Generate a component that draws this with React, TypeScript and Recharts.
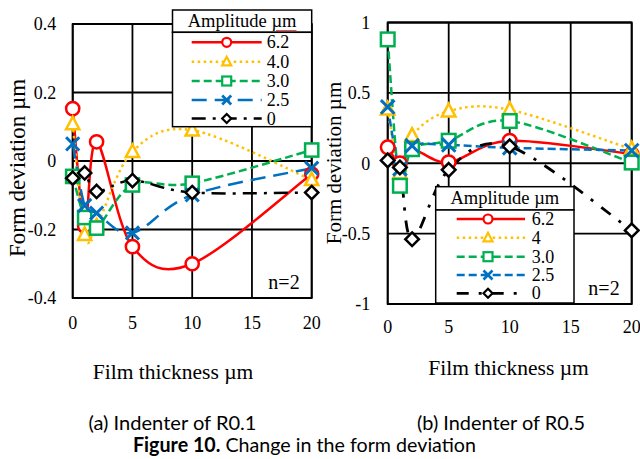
import React from 'react';
import { LineChart, Line, XAxis, YAxis, CartesianGrid, ReferenceArea } from 'recharts';

// ---------- data ----------
const FILM_THICKNESS = [0, 1, 2, 5, 10, 20];
const X_TICKS = [0, 5, 10, 15, 20];

// (a) Indenter of R0.1
const A_SERIES_NAMES = ['6.2', '4.0', '3.0', '2.5', '0'];
const A_AMP_6_2 = [0.153, -0.19, 0.056, -0.25, -0.3, -0.038];
const A_AMP_4_0 = [0.108, -0.215, -0.19, 0.027, 0.09, -0.055];
const A_AMP_3_0 = [-0.045, -0.165, -0.196, -0.07, -0.065, 0.032];
const A_AMP_2_5 = [0.05, -0.13, -0.152, -0.21, -0.099, -0.021];
const A_AMP_0 = [-0.05, -0.035, -0.089, -0.057, -0.092, -0.092];
const A_Y_TICKS = [-0.4, -0.2, 0, 0.2, 0.4];

// (b) Indenter of R0.5
const B_SERIES_NAMES = ['6.2', '4', '3.0', '2.5', '0'];
const B_AMP_6_2 = [0.113, 0.0, 0.1, 0.007, 0.16, 0.065];
const B_AMP_4 = [0.385, -0.07, 0.196, 0.37, 0.38, 0.1];
const B_AMP_3_0 = [0.88, -0.16, 0.1, 0.16, 0.3, 0.005];
const B_AMP_2_5 = [0.4, -0.04, 0.125, 0.13, 0.11, 0.09];
const B_AMP_0 = [0.02, -0.03, -0.54, -0.047, 0.12, -0.477];
const B_Y_TICKS = [-1, -0.5, 0, 0.5, 1];

const buildRows = (series: number[][]) =>
  FILM_THICKNESS.map((x, i) => {
    const row: any = { x };
    series.forEach((s, k) => (row['s' + k] = s[i]));
    return row;
  });

const A_ROWS = buildRows([A_AMP_6_2, A_AMP_4_0, A_AMP_3_0, A_AMP_2_5, A_AMP_0]);
const B_ROWS = buildRows([B_AMP_6_2, B_AMP_4, B_AMP_3_0, B_AMP_2_5, B_AMP_0]);

// ---------- styles ----------
const SERIF = '"Liberation Serif", "Times New Roman", serif';
const SANS = 'Lato, "Open Sans", sans-serif';

type Shape = 'circle' | 'triangle' | 'square' | 'x' | 'diamond';
type SStyle = { color: string; dash?: string; shape: Shape; width: number };

const A_STYLES: SStyle[] = [
  { color: '#FF0000', shape: 'circle', width: 2.5 },
  { color: '#FFC000', dash: '2.5 3.5', shape: 'triangle', width: 2.5 },
  { color: '#00B050', dash: '8 4', shape: 'square', width: 2.5 },
  { color: '#0070C0', dash: '15 8', shape: 'x', width: 2.5 },
  { color: '#000000', dash: '14 7 3 7', shape: 'diamond', width: 2.5 },
];
const B_STYLES: SStyle[] = [
  { color: '#FF0000', shape: 'circle', width: 2.5 },
  { color: '#FFC000', dash: '2.5 3.5', shape: 'triangle', width: 2.5 },
  { color: '#00B050', dash: '8 4', shape: 'square', width: 2.5 },
  { color: '#0070C0', dash: '8 4', shape: 'x', width: 2.5 },
  { color: '#000000', dash: '12 10 3 10', shape: 'diamond', width: 2.8 },
];

// Excel-like smoothed line (Catmull-Rom bezier)
function excelCurve(context: any) {
  let pts: number[][] = [];
  return {
    areaStart() {},
    areaEnd() {},
    lineStart() {
      pts = [];
    },
    point(x: number, y: number) {
      pts.push([+x, +y]);
    },
    lineEnd() {
      const n = pts.length;
      if (!n) return;
      context.moveTo(pts[0][0], pts[0][1]);
      for (let i = 0; i < n - 1; i++) {
        const p0 = pts[i - 1] || pts[i];
        const p1 = pts[i];
        const p2 = pts[i + 1];
        const p3 = pts[i + 2] || p2;
        context.bezierCurveTo(
          p1[0] + (p2[0] - p0[0]) / 6,
          p1[1] + (p2[1] - p0[1]) / 6,
          p2[0] - (p3[0] - p1[0]) / 6,
          p2[1] - (p3[1] - p1[1]) / 6,
          p2[0],
          p2[1]
        );
      }
    },
  };
}

function marker(shape: Shape, color: string, s: number, sw: number, cx: number, cy: number, key?: string) {
  const common = { fill: '#fff', stroke: color, strokeWidth: sw, strokeDasharray: 'none' } as any;
  if (cx == null || cy == null) return <g key={key} />;
  switch (shape) {
    case 'circle':
      return <circle key={key} cx={cx} cy={cy} r={s} {...common} />;
    case 'triangle':
      return (
        <polygon
          key={key}
          points={`${cx},${cy - s * 1.1} ${cx - s},${cy + s * 0.8} ${cx + s},${cy + s * 0.8}`}
          strokeLinejoin="miter"
          {...common}
        />
      );
    case 'square':
      return <rect key={key} x={cx - s} y={cy - s} width={2 * s} height={2 * s} {...common} />;
    case 'x':
      return (
        <path
          key={key}
          d={`M${cx - s},${cy - s}L${cx + s},${cy + s}M${cx + s},${cy - s}L${cx - s},${cy + s}`}
          fill="none"
          stroke={color}
          strokeWidth={sw + 0.5}
        />
      );
    default:
      return (
        <polygon
          key={key}
          points={`${cx},${cy - s} ${cx + s},${cy} ${cx},${cy + s} ${cx - s},${cy}`}
          {...common}
          stroke={color}
        />
      );
  }
}

type PanelProps = {
  rows: any[];
  names: string[];
  styles: SStyle[];
  yDomain: [number, number];
  yTicks: number[];
  width: number;
  height: number;
  margin: any;
  yAxisWidth: number;
  xAxisHeight: number;
  xTickMargin: number;
  yTickMargin: number;
  markerSize: number;
};

function Panel(p: PanelProps) {
  const tickStyle = { fill: '#000', fontSize: 18, fontFamily: SERIF };
  return (
    <LineChart width={p.width} height={p.height} data={p.rows} margin={p.margin}>
      <CartesianGrid stroke="#000" strokeWidth={1.8} />
      <XAxis
        type="number"
        dataKey="x"
        domain={[0, 20]}
        ticks={X_TICKS}
        interval={0}
        axisLine={false}
        tickLine={false}
        height={p.xAxisHeight}
        tickMargin={p.xTickMargin}
        tick={tickStyle}
      />
      <YAxis
        type="number"
        domain={p.yDomain}
        ticks={p.yTicks}
        interval={0}
        axisLine={false}
        tickLine={false}
        width={p.yAxisWidth}
        tickMargin={p.yTickMargin}
        tick={tickStyle}
      />
      <ReferenceArea
        x1={0}
        x2={20}
        y1={p.yDomain[0]}
        y2={p.yDomain[1]}
        fill="none"
        fillOpacity={0}
        stroke="#000"
        strokeWidth={1.8}
      />
      {p.names.map((name, i) => {
        const st = p.styles[i];
        return (
          <Line
            key={name + i}
            name={name}
            dataKey={'s' + i}
            type={excelCurve as any}
            stroke={st.color}
            strokeWidth={st.width}
            strokeDasharray={st.dash}
            dot={(d: any) => marker(st.shape, st.color, p.markerSize, 2.5, d.cx, d.cy, `m${i}-${d.index}`)}
            activeDot={false}
            isAnimationActive={false}
          />
        );
      })}
    </LineChart>
  );
}

function LegendRows({
  names,
  styles,
  rowsY,
  x1,
  x2,
  mx,
  lx,
}: {
  names: string[];
  styles: SStyle[];
  rowsY: number[];
  x1: number;
  x2: number;
  mx: number;
  lx: number;
}) {
  return (
    <g>
      {names.map((n, i) => {
        const st = styles[i];
        const y = rowsY[i];
        return (
          <g key={n + i}>
            <line x1={x1} x2={x2} y1={y} y2={y} stroke={st.color} strokeWidth={st.width} strokeDasharray={st.dash} />
            {marker(st.shape, st.color, 4.5, 2.2, mx, y)}
            <text x={lx} y={y} dominantBaseline="central" fontSize={18} fontFamily={SERIF} fill="#000">
              {n}
            </text>
          </g>
        );
      })}
    </g>
  );
}

export default function App() {
  return (
    <div style={{ position: 'absolute', left: 0, top: 0, width: 640, height: 459, background: '#fff', overflow: 'hidden' }}>
      <div style={{ position: 'absolute', left: 0, top: 0 }}>
        <Panel
          rows={A_ROWS}
          names={A_SERIES_NAMES}
          styles={A_STYLES}
          yDomain={[-0.4, 0.4]}
          yTicks={A_Y_TICKS}
          width={330}
          height={345}
          margin={{ top: 24, right: 18.3, bottom: 0, left: 0 }}
          yAxisWidth={72.7}
          xAxisHeight={47}
          xTickMargin={12}
          yTickMargin={10.5}
          markerSize={6.6}
        />
      </div>
      <div style={{ position: 'absolute', left: 320, top: 0 }}>
        <Panel
          rows={B_ROWS}
          names={B_SERIES_NAMES}
          styles={B_STYLES}
          yDomain={[-1, 1]}
          yTicks={B_Y_TICKS}
          width={320}
          height={345}
          margin={{ top: 22.5, right: 8.3, bottom: 0, left: 0 }}
          yAxisWidth={67.7}
          xAxisHeight={41}
          xTickMargin={10}
          yTickMargin={11.5}
          markerSize={6.8}
        />
      </div>

      <svg width={640} height={459} style={{ position: 'absolute', left: 0, top: 0, pointerEvents: 'none' }}>
        {/* legend (a) */}
        <rect x={172.5} y={10} width={139.2} height={22.3} fill="#fff" stroke="#000" strokeWidth={1.5} />
        <rect x={172.5} y={32.3} width={139.2} height={94.4} fill="#fff" stroke="#000" strokeWidth={1.5} />
        <LegendRows
          names={A_SERIES_NAMES}
          styles={A_STYLES}
          rowsY={[42.3, 61.7, 81, 100, 118.5]}
          x1={191.7}
          x2={261.7}
          mx={226.7}
          lx={266.7}
        />
        {/* legend (b) */}
        <rect x={435.7} y={186.7} width={138.3} height={23.3} fill="#fff" stroke="#000" strokeWidth={1.5} />
        <rect x={435.7} y={210} width={138.3} height={93} fill="#fff" stroke="#000" strokeWidth={1.5} />
        <LegendRows
          names={B_SERIES_NAMES}
          styles={B_STYLES}
          rowsY={[219, 237.7, 256.7, 275, 293.3]}
          x1={456.7}
          x2={525}
          mx={488}
          lx={531.7}
        />

        {/* n=2 */}
        <text x={284} y={281.7} textAnchor="middle" dominantBaseline="central" fontSize={20} fontFamily={SERIF}>
          n=2
        </text>
        <text x={604} y={288.3} textAnchor="middle" dominantBaseline="central" fontSize={20} fontFamily={SERIF}>
          n=2
        </text>

        {/* axis titles */}
        <text
          transform="translate(17.7,168) rotate(-90)"
          textAnchor="middle"
          dominantBaseline="central"
          fontSize={23}
          fontFamily={SERIF}
        >
          Form deviation µm
        </text>
        <text
          transform="translate(334,163) rotate(-90)"
          textAnchor="middle"
          dominantBaseline="central"
          fontSize={21}
          fontFamily={SERIF}
        >
          Form deviation µm
        </text>
        <text x={173} y={379} textAnchor="middle" fontSize={21.5} fontFamily={SERIF}>
          Film thickness µm
        </text>
        <text x={508.5} y={375} textAnchor="middle" fontSize={21.5} fontFamily={SERIF}>
          Film thickness µm
        </text>

        {/* captions */}
        <text x={172.5} y={429.5} textAnchor="middle" fontSize={20} fontFamily={SANS} textLength={168} lengthAdjust="spacingAndGlyphs">
          (a) Indenter of R0.1
        </text>
        <text x={501} y={429.5} textAnchor="middle" fontSize={20} fontFamily={SANS} textLength={168} lengthAdjust="spacingAndGlyphs">
          (b) Indenter of R0.5
        </text>
        <text x={304.5} y={452} textAnchor="middle" fontSize={20} fontFamily={SANS} textLength={343} lengthAdjust="spacingAndGlyphs">
          <tspan fontWeight="bold">Figure 10.</tspan> Change in the form deviation
        </text>
      </svg>

      {/* legend headers */}
      <div
        style={{
          position: 'absolute',
          left: 172.5,
          top: 10,
          width: 139.2,
          height: 22.3,
          lineHeight: '22.3px',
          textAlign: 'center',
          fontFamily: SERIF,
          fontSize: 18.5,
          color: '#000',
        }}
      >
        Amplitude{' '}
        <span style={{ textDecoration: 'underline', textDecorationColor: '#f05050', textUnderlineOffset: 3 }}>µm</span>
      </div>
      <div
        style={{
          position: 'absolute',
          left: 435.7,
          top: 186.7,
          width: 138.3,
          height: 23.3,
          lineHeight: '23.3px',
          textAlign: 'center',
          fontFamily: SERIF,
          fontSize: 18.5,
          color: '#000',
        }}
      >
        Amplitude µm
      </div>
    </div>
  );
}
